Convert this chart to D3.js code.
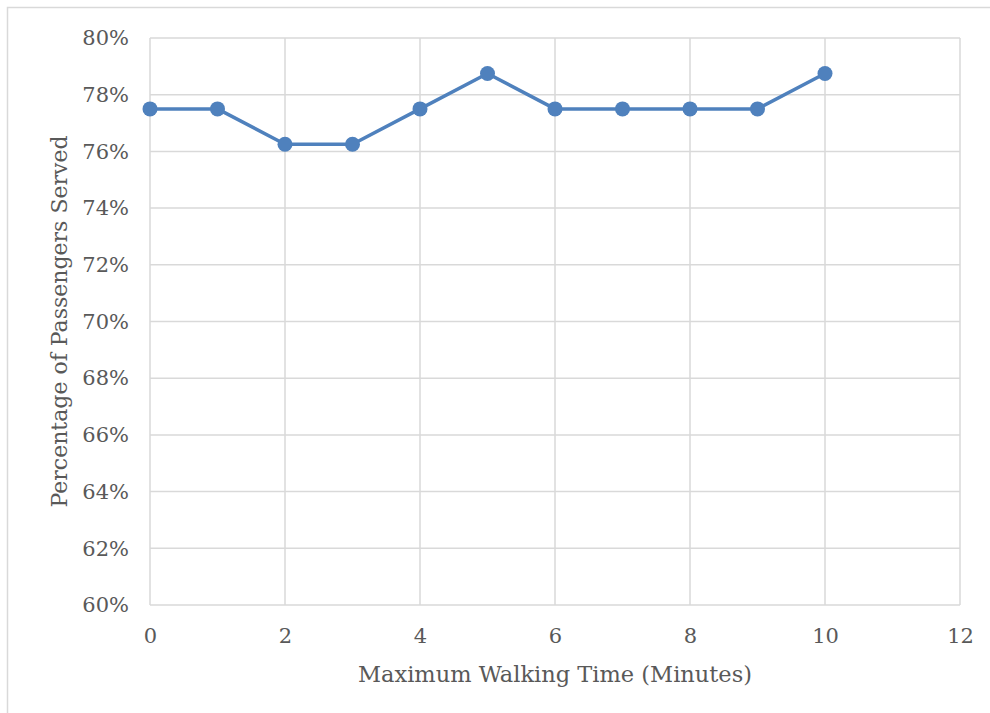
<!DOCTYPE html>
<html>
    <head>
        <meta charset="UTF-8">
        <script src="https://d3js.org/d3.v7.min.js"></script>
        <style>
            body { margin: 0; background: #fff; }
            text { font-family: "DejaVu Serif", serif; fill: #595959; }
        </style>
    </head>

    <body>

        <svg id="canvas"></svg>

        <script>

            width = 990;
            height = 713;

            // data
            minutes = [0, 1, 2, 3, 4, 5, 6, 7, 8, 9, 10];
            served = [0.775, 0.775, 0.7625, 0.7625, 0.775, 0.7875, 0.775, 0.775, 0.775, 0.775, 0.7875];
            xticks = [0, 2, 4, 6, 8, 10, 12];
            yticks = [0.60, 0.62, 0.64, 0.66, 0.68, 0.70, 0.72, 0.74, 0.76, 0.78, 0.80];
            xtitle = "Maximum Walking Time (Minutes)";
            ytitle = "Percentage of Passengers Served";

            plot = {left: 150, right: 960, top: 38, bottom: 605};

            canvas = d3.select("#canvas")
                .attr("width", width)
                .attr("height", height);

            // outer chart border
            canvas.append("rect")
                .attr("x", 7.5).attr("y", 7.5)
                .attr("width", 1000).attr("height", 720)
                .attr("style", "fill:none; stroke:#d9d9d9; stroke-width:1.5;");

            xscale = d3.scaleLinear()
                .domain([0, 12])
                .range([plot.left, plot.right]);

            yscale = d3.scaleLinear()
                .domain([0.6, 0.8])
                .range([plot.bottom, plot.top]);

            // gridlines
            canvas.append("g").selectAll("line")
                .data(yticks)
                .join("line")
                    .attr("x1", plot.left).attr("x2", plot.right)
                    .attr("y1", d => yscale(d)).attr("y2", d => yscale(d))
                    .attr("style", "stroke:#d9d9d9; stroke-width:1.5;");

            canvas.append("g").selectAll("line")
                .data(xticks)
                .join("line")
                    .attr("x1", d => xscale(d)).attr("x2", d => xscale(d))
                    .attr("y1", plot.top).attr("y2", plot.bottom)
                    .attr("style", "stroke:#d9d9d9; stroke-width:1.5;");

            // axes (labels only)
            yaxis = canvas.append("g")
                .attr("transform", "translate(" + plot.left + ",0)")
                .call(d3.axisLeft(yscale).tickValues(yticks).tickFormat(d3.format(".0%")).tickSize(0).tickPadding(21));
            xaxis = canvas.append("g")
                .attr("transform", "translate(0," + plot.bottom + ")")
                .call(d3.axisBottom(xscale).tickValues(xticks).tickSize(0).tickPadding(23));
            canvas.selectAll(".domain").remove();
            canvas.selectAll(".tick text")
                .attr("style", "font-family:'DejaVu Serif',serif; font-size:21px; fill:#595959;");

            // axis titles
            canvas.append("text")
                .attr("x", (plot.left + plot.right) / 2)
                .attr("y", 682)
                .attr("text-anchor", "middle")
                .attr("style", "font-size:22.5px;")
                .text(xtitle);

            canvas.append("text")
                .attr("transform", "translate(67," + (plot.top + plot.bottom) / 2 + ") rotate(-90)")
                .attr("text-anchor", "middle")
                .attr("style", "font-size:22px;")
                .text(ytitle);

            // series
            pts = minutes.map((m, i) => [m, served[i]]);

            line = d3.line()
                .x(d => xscale(d[0]))
                .y(d => yscale(d[1]));

            canvas.append("path")
                .attr("d", line(pts))
                .attr("style", "fill:none; stroke:#4f81bd; stroke-width:3.5; stroke-linejoin:round;");

            canvas.append("g").selectAll("circle")
                .data(pts)
                .join("circle")
                    .attr("cx", d => xscale(d[0]))
                    .attr("cy", d => yscale(d[1]))
                    .attr("r", 7.5)
                    .attr("style", "fill:#4f81bd;");

        </script>

    </body>

</html>
